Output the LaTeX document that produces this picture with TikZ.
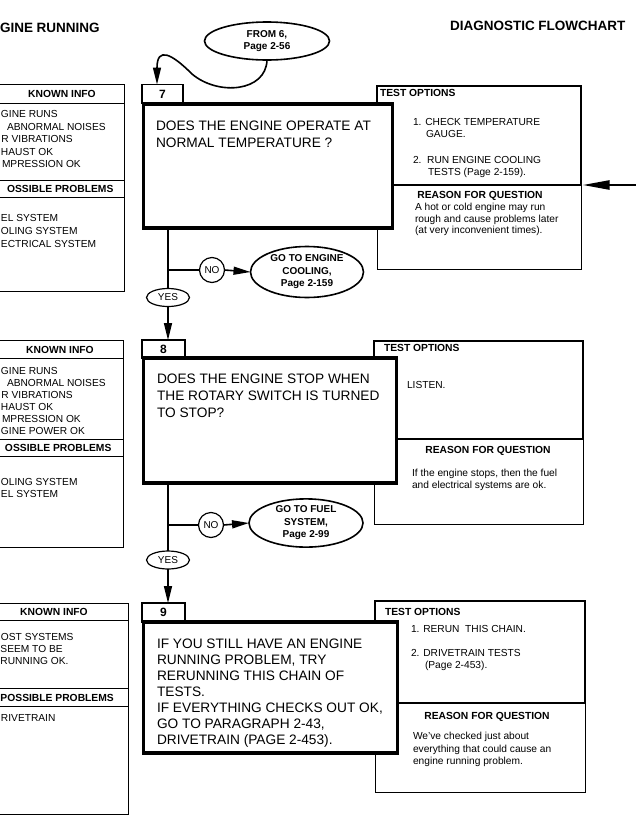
\documentclass[tikz,border=0pt]{standalone}
\usepackage{fontspec}
\setmainfont{Liberation Sans}
\usetikzlibrary{arrows.meta,shapes.geometric,calc}
\begin{document}
\begin{tikzpicture}[x=1pt,y=-1pt,
  every node/.style={inner sep=0pt, outer sep=0pt},
  mainbox/.style={draw, line width=3.6pt, fill=white, rectangle, anchor=north west},
  numbox/.style={draw, line width=1.2pt, fill=white, rectangle, anchor=north west, font=\bfseries\fontsize{12}{14}\selectfont},
  infobox/.style={draw, line width=0.9pt, rectangle, anchor=north west},
  infoline/.style={line width=0.9pt},
  testbox/.style={draw, line width=1.6pt, rectangle, anchor=north west},
  reasonbox/.style={draw, line width=0.9pt, rectangle, anchor=north west},
  sm/.style={anchor=base west, font=\fontsize{10.2}{12}\selectfont},
  hd/.style={anchor=base, font=\bfseries\fontsize{10.3}{12}\selectfont},
  hdw/.style={anchor=base west, font=\bfseries\fontsize{10.3}{12}\selectfont},
  qt/.style={anchor=base west, font=\fontsize{13.7}{16}\selectfont},
  ttl/.style={anchor=base west, font=\bfseries\fontsize{13.5}{16}\selectfont},
  goto/.style={draw, ellipse, line width=1.6pt, align=center, fill=white, font=\bfseries\fontsize{10}{12.5}\selectfont},
  noc/.style={draw, circle, line width=1.2pt, minimum size=25pt, fill=white, font=\fontsize{10}{12}\selectfont},
  yese/.style={draw, ellipse, line width=1.2pt, minimum width=43pt, minimum height=18pt, fill=white, font=\fontsize{10}{12}\selectfont},
  flow/.style={line width=1.6pt},
  arr/.style={flow, -{Triangle[length=17pt,width=8pt]}},
  bigarr/.style={line width=2.4pt, -{Triangle[length=27pt,width=9pt]}}
]
\useasboundingbox (0,0) rectangle (636,825);
\clip (0,0) rectangle (636,825);

% titles
\node[ttl] (title1) at (0,32) {GINE RUNNING};
\node[ttl] (title2) at (450,30) {DIAGNOSTIC FLOWCHART};

% ---------- KNOWN INFO boxes ----------
\node[infobox, minimum width=134pt, minimum height=207pt] (k1) at (-10,84) {};
\draw[infoline] (k1.west |- 0,103) -- (k1.east |- 0,103);
\draw[infoline] (k1.west |- 0,180) -- (k1.east |- 0,180);
\draw[infoline] (k1.west |- 0,197) -- (k1.east |- 0,197);
\node[hd] (k1h) at (62,97.5) {KNOWN INFO};
\node[sm] (k1a) at (1,117.6) {GINE RUNS};
\node[sm] (k1b) at (7,130.1) {ABNORMAL NOISES};
\node[sm] (k1c) at (1.5,142.6) {R VIBRATIONS};
\node[sm] (k1d) at (1,155.1) {HAUST OK};
\node[sm] (k1e) at (2,167.6) {MPRESSION OK};
\node[hdw] (k1p) at (7,192.3) {OSSIBLE PROBLEMS};
\node[sm] (k1f) at (1,221.3) {EL SYSTEM};
\node[sm] (k1g) at (1,234.3) {OLING SYSTEM};
\node[sm] (k1i) at (1,247.3) {ECTRICAL SYSTEM};

\node[infobox, minimum width=133pt, minimum height=207pt] (k2) at (-10,340) {};
\draw[infoline] (k2.west |- 0,358) -- (k2.east |- 0,358);
\draw[infoline] (k2.west |- 0,439) -- (k2.east |- 0,439);
\draw[infoline] (k2.west |- 0,456) -- (k2.east |- 0,456);
\node[hd] (k2h) at (60,353) {KNOWN INFO};
\node[sm] (k2a) at (1,374.6) {GINE RUNS};
\node[sm] (k2b) at (7,386.6) {ABNORMAL NOISES};
\node[sm] (k2c) at (1.5,398.6) {R VIBRATIONS};
\node[sm] (k2d) at (1,410.6) {HAUST OK};
\node[sm] (k2e) at (2,422.6) {MPRESSION OK};
\node[sm] (k2f) at (1,434.4) {GINE POWER OK};
\node[hdw] (k2p) at (5,451.3) {OSSIBLE PROBLEMS};
\node[sm] (k2g) at (1,485.6) {OLING SYSTEM};
\node[sm] (k2i) at (1,497.6) {EL SYSTEM};

\node[infobox, minimum width=138pt, minimum height=211pt] (k3) at (-10,603) {};
\draw[infoline] (k3.west |- 0,620) -- (k3.east |- 0,620);
\draw[infoline] (k3.west |- 0,688) -- (k3.east |- 0,688);
\draw[infoline] (k3.west |- 0,706) -- (k3.east |- 0,706);
\node[hd] (k3h) at (54,615.5) {KNOWN INFO};
\node[sm] (k3a) at (1,640.6) {OST SYSTEMS};
\node[sm] (k3b) at (0.5,652.6) {SEEM TO BE};
\node[sm] (k3c) at (0.5,664.6) {RUNNING OK.};
\node[hdw] (k3p) at (0.5,701.3) {POSSIBLE PROBLEMS};
\node[sm] (k3d) at (1,721) {RIVETRAIN};

% ---------- TEST OPTIONS / REASON boxes ----------
\node[reasonbox, minimum width=204pt, minimum height=84pt] (r7) at (377,185) {};
\node[testbox, minimum width=204pt, minimum height=99pt] (t7) at (377,86) {};
\node[reasonbox, minimum width=209pt, minimum height=85pt] (r8) at (374,439) {};
\node[testbox, minimum width=209pt, minimum height=98pt] (t8) at (374,341) {};
\node[reasonbox, minimum width=210pt, minimum height=89pt] (r9) at (375,703) {};
\node[testbox, minimum width=210pt, minimum height=102pt] (t9) at (375,601) {};

% ---------- number boxes and main question boxes ----------
\node[numbox, minimum width=41pt, minimum height=19pt] (n7) at (142,84.5) {7};
\node[mainbox, minimum width=249pt, minimum height=124pt] (q7) at (143.5,104) {};
\node[numbox, minimum width=43pt, minimum height=18pt] (n8) at (142,340) {8};
\node[mainbox, minimum width=253pt, minimum height=125pt] (q8) at (143.5,358) {};
\node[numbox, minimum width=43pt, minimum height=19pt] (n9) at (142,603) {9};
\node[mainbox, minimum width=254pt, minimum height=131pt] (q9) at (143.5,622) {};

% question texts
\node[qt] (q7a) at (156,130) {DOES THE ENGINE OPERATE AT};
\node[qt] (q7b) at (156,147) {NORMAL TEMPERATURE ?};
\node[qt] (q8a) at (157,383) {DOES THE ENGINE STOP WHEN};
\node[qt] (q8b) at (157,400) {THE ROTARY SWITCH IS TURNED};
\node[qt] (q8c) at (157,417) {TO STOP?};
\node[qt] (q9a) at (157,648) {IF YOU STILL HAVE AN ENGINE};
\node[qt] (q9b) at (157,664) {RUNNING PROBLEM, TRY};
\node[qt] (q9c) at (157,680) {RERUNNING THIS CHAIN OF};
\node[qt] (q9d) at (157,696) {TESTS.};
\node[qt] (q9e) at (157,712) {IF EVERYTHING CHECKS OUT OK,};
\node[qt] (q9f) at (157,728) {GO TO PARAGRAPH 2-43,};
\node[qt] (q9g) at (157,744) {DRIVETRAIN (PAGE 2-453).};

% test options texts 7
\node[hdw] (t7h) at (380,96.8) {TEST OPTIONS};
\node[sm] (t7a) at (413,125.6) {1. CHECK TEMPERATURE};
\node[sm] (t7b) at (426,137) {GAUGE.};
\node[sm] (t7c) at (413,163.6) {2.\ \ RUN ENGINE COOLING};
\node[sm] (t7d) at (428,175.6) {TESTS (Page 2-159).};
\node[hd] (r7h) at (480,198.8) {REASON FOR QUESTION};
\node[sm] (r7a) at (415,210.6) {A hot or cold engine may run};
\node[sm] (r7b) at (415,222.1) {rough and cause problems later};
\node[sm] (r7c) at (415,233.6) {(at very inconvenient times).};

% test options texts 8
\node[hdw] (t8h) at (384,351.8) {TEST OPTIONS};
\node[sm] (t8a) at (407,388.6) {LISTEN.};
\node[hd] (r8h) at (488,453.8) {REASON FOR QUESTION};
\node[sm] (r8a) at (412,476.6) {If the engine stops, then the fuel};
\node[sm] (r8b) at (412,488.6) {and electrical systems are ok.};

% test options texts 9
\node[hdw] (t9h) at (385,615.8) {TEST OPTIONS};
\node[sm] (t9a) at (411,632.6) {1. RERUN\ \ THIS CHAIN.};
\node[sm] (t9b) at (411,656.6) {2. DRIVETRAIN TESTS};
\node[sm] (t9c) at (425,668.3) {(Page 2-453).};
\node[hd] (r9h) at (487,719.8) {REASON FOR QUESTION};
\node[sm] (r9a) at (413,739.6) {We've checked just about};
\node[sm] (r9b) at (413,752.1) {everything that could cause an};
\node[sm] (r9c) at (413,764.6) {engine running problem.};

% ---------- ovals ----------
\node[goto, minimum width=125pt, minimum height=38pt] (from6) at (267,41) {FROM 6,\\Page 2-56};
\node[noc] (no7) at (212,270) {NO};
\node[goto, minimum width=113pt, minimum height=51pt] (go7) at (307,272) {GO TO ENGINE\\COOLING,\\Page 2-159};
\node[yese] (yes7) at (168,297.5) {YES};
\node[noc] (no8) at (211,525) {NO};
\node[goto, minimum width=114pt, minimum height=47pt] (go8) at (306,523) {GO TO FUEL\\SYSTEM,\\Page 2-99};
\node[yese] (yes8) at (168,560) {YES};

% ---------- connectors ----------
\draw[arr] (from6.south) .. controls (266,92) and (218,96) .. (192,74)
   .. controls (172,54) and (157,46) .. ($(n7.north west)+(15,0)$);

\coordinate (j7) at (yes7 |- no7);
\draw[flow] (yes7 |- q7.south) -- (yes7.north);
\draw[flow] (j7) -- (no7.west);
\draw[arr] (no7.east) -- (go7.west);
\draw[arr] (yes7.south) -- (yes7.south |- n8.north);

\coordinate (j8) at (yes8 |- no8);
\draw[flow] (yes8 |- q8.south) -- (yes8.north);
\draw[flow] (j8) -- (no8.west);
\draw[arr] (no8.east) -- (go8.west);
\draw[arr] (yes8.south) -- (yes8.south |- n9.north);

\coordinate (redge) at (640,185);
\draw[bigarr] (redge) -- ($(t7.south east)+(1.5,0)$);
\end{tikzpicture}
\end{document}
